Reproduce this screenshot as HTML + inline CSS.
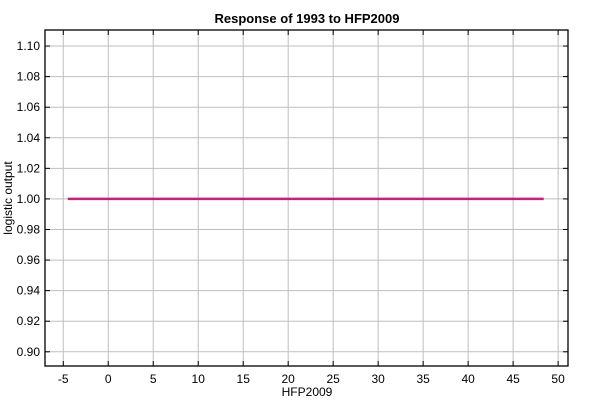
<!DOCTYPE html>
<html><head><meta charset="utf-8"><style>
body{margin:0;background:#fff;width:600px;height:400px;overflow:hidden}
text{font-family:"Liberation Sans",sans-serif;fill:#000}
</style></head><body>
<svg width="600" height="400">
<text x="307" y="23" font-size="13" font-weight="bold" text-anchor="middle">Response of 1993 to HFP2009</text>
<g id="grid"></g><g id="axes"></g><g id="series"></g>
<text x="307" y="396" font-size="12" text-anchor="middle">HFP2009</text>
<text transform="translate(12,198) rotate(-90)" font-size="12" text-anchor="middle">logistic output</text>
</svg>
<script>
const xTicks=[-5,0,5,10,15,20,25,30,35,40,45,50];
const yTicks=[0.90,0.92,0.94,0.96,0.98,1.00,1.02,1.04,1.06,1.08,1.10];
const seriesX=[-4.5,48.4];
const seriesY=[1.0,1.0];
const L=45,R=568,T=30,B=366;
const xMin=-7.03,xMax=51.1,yMin=0.8907,yMax=1.1105;
const sx=v=>L+(v-xMin)/(xMax-xMin)*(R-L);
const sy=v=>B-(v-yMin)/(yMax-yMin)*(B-T);
const NS='http://www.w3.org/2000/svg';
function mk(p,t,a){const e=document.createElementNS(NS,t);for(const k in a)e.setAttribute(k,a[k]);p.appendChild(e);return e;}
const g=document.getElementById('grid'),ax=document.getElementById('axes'),se=document.getElementById('series');
xTicks.forEach(v=>{const x=sx(v);
const l=mk(g,'line',{x1:x,x2:x,y1:T,y2:B,stroke:'#bfbfbf','stroke-width':1});


mk(ax,'line',{x1:x,x2:x,y1:B,y2:B-5,stroke:'#000'});
mk(ax,'line',{x1:x,x2:x,y1:T,y2:T+5,stroke:'#000'});
const t=mk(ax,'text',{x:x,y:B+17,'font-size':12,'text-anchor':'middle'});t.textContent=v;


});
yTicks.forEach(v=>{const y=sy(v);
const l=mk(g,'line',{x1:L,x2:R,y1:y,y2:y,stroke:'#bfbfbf','stroke-width':1});


mk(ax,'line',{x1:L,x2:L+5,y1:y,y2:y,stroke:'#000'});
mk(ax,'line',{x1:R,x2:R-5,y1:y,y2:y,stroke:'#000'});
const t=mk(ax,'text',{x:L-5,y:y+4,'font-size':12,'text-anchor':'end'});t.textContent=v.toFixed(2);


});
const f=mk(ax,'rect',{x:L,y:T,width:R-L,height:B-T,fill:'none',stroke:'#000','stroke-width':1.3});


const pts=seriesX.map((x,i)=>sx(x)+','+sy(seriesY[i])).join(' ');
const pl=mk(se,'polyline',{points:pts,fill:'none',stroke:'#c0237a','stroke-width':2.5});


</script>
</body></html>
